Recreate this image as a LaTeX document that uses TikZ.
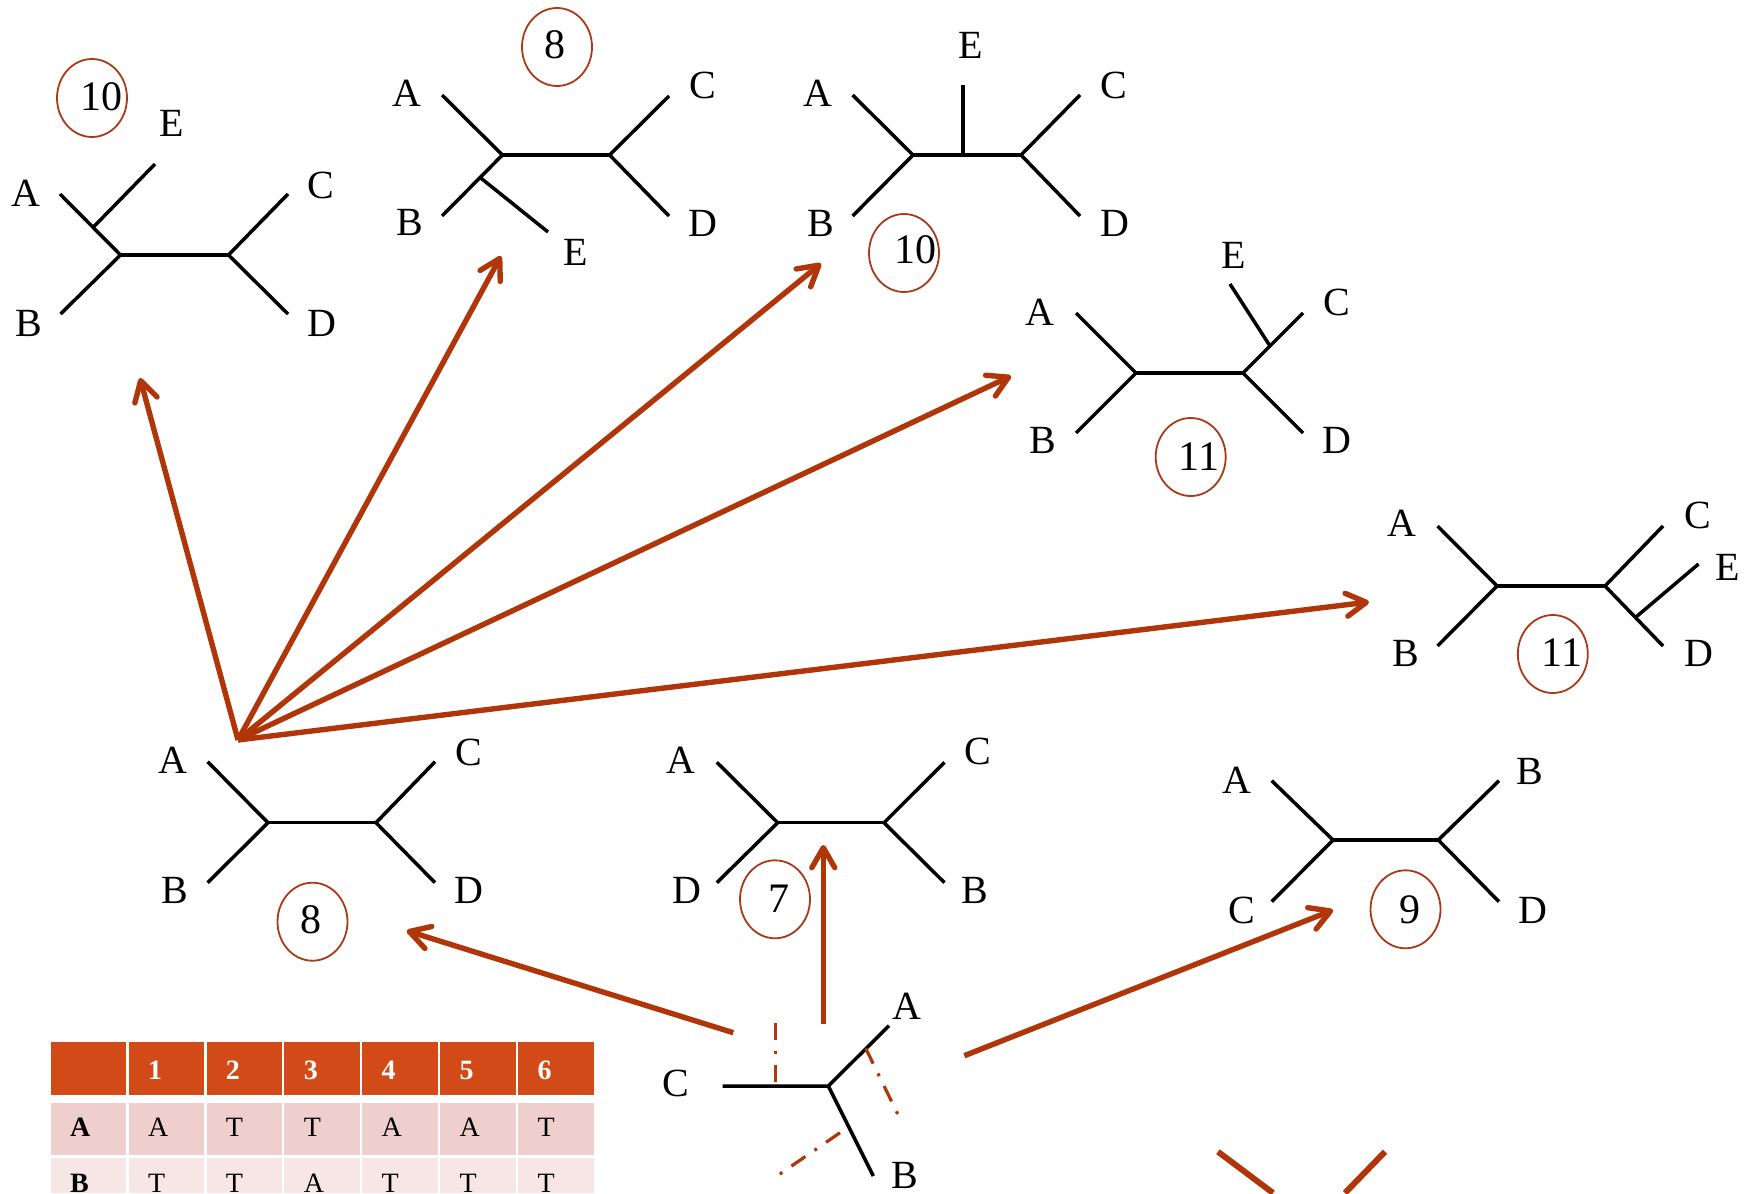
\documentclass[tikz,border=0pt]{standalone}
\usepackage{fontspec}
\setmainfont{Liberation Serif}
\usetikzlibrary{arrows.meta,shapes.geometric}
\definecolor{arrc}{HTML}{B0360A}
\definecolor{circc}{HTML}{A83A18}
\definecolor{hdrc}{HTML}{D14A18}
\definecolor{rowac}{HTML}{EECFCD}
\definecolor{rowbc}{HTML}{F6E6E5}
\tikzset{
  tree/.style={line width=1.75pt, black},
  lab/.style={font=\fontsize{20}{24}\selectfont, inner sep=0pt},
  score/.style={ellipse, draw=circc, line width=0.9pt, minimum width=35pt, minimum height=39pt, inner sep=0pt},
  num/.style={font=\fontsize{21}{25}\selectfont, inner sep=0pt},
  arr/.style={draw=arrc, line width=2.7pt, -{Straight Barb[length=10pt,width=11.5pt,round]}},
  dd/.style={draw=arrc, line width=1.6pt, dash pattern=on 8.5pt off 5.5pt on 1.5pt off 5.5pt},
  tabtxt/.style={font=\fontsize{14}{16}\selectfont, inner sep=0pt, anchor=base west},
  tabbold/.style={tabtxt, font=\fontsize{14}{16}\selectfont\bfseries},
}
\begin{document}
\begin{tikzpicture}[x=0.5pt,y=-0.5pt]
\useasboundingbox (0,0) rectangle (1744,1193);

% ---------- Tree 1 (score 10) ----------
\draw[tree] (60,194) -- (120.5,255) -- (60.5,314);
\draw[tree] (120.5,255) -- (228.5,255);
\draw[tree] (288,194) -- (228.5,255) -- (288,314);
\draw[tree] (93,227.5) -- (155,164);
\node[lab] (t1a) at (26,193) {A};
\node[lab] (t1e) at (172,123) {E};
\node[lab] (t1c) at (321,185) {C};
\node[lab] (t1b) at (29,323) {B};
\node[lab] (t1d) at (322,323) {D};
\node[score] (s1) at (92,98) {};
\node[num] (n1) at (101,97) {10};

% ---------- Tree 2 (score 8) ----------
\draw[tree] (442,95) -- (502.4,155) -- (442,216);
\draw[tree] (502.4,155) -- (609.6,155);
\draw[tree] (669,96) -- (609.6,155) -- (669,216);
\draw[tree] (480,177.4) -- (548,232);
\node[lab] (t2a) at (407,93) {A};
\node[lab] (t2b) at (410,222) {B};
\node[lab] (t2e) at (576,252) {E};
\node[lab] (t2c) at (702.6,85) {C};
\node[lab] (t2d) at (703,223) {D};
\node[score] (s2) at (557,47) {};
\node[num] (n2) at (555,45) {8};

% ---------- Tree 3 (score 10) ----------
\draw[tree] (852.6,95) -- (913,155) -- (852.6,216);
\draw[tree] (913,155) -- (1021,155);
\draw[tree] (1080,95) -- (1021,155) -- (1080,216);
\draw[tree] (962.8,155) -- (962.8,85);
\node[lab] (t3e) at (971,45) {E};
\node[lab] (t3a) at (818,93) {A};
\node[lab] (t3c) at (1113.5,85) {C};
\node[lab] (t3b) at (821,223) {B};
\node[lab] (t3d) at (1114.7,223) {D};
\node[score] (s3) at (904,253) {};
\node[num] (n3) at (915.7,250) {10};

% ---------- Tree 4 (score 11) ----------
\draw[tree] (1076,313) -- (1136,373) -- (1076,433);
\draw[tree] (1136,373) -- (1243,373);
\draw[tree] (1303,313) -- (1243,373) -- (1303,433);
\draw[tree] (1270,346) -- (1230,284);
\node[lab] (t4e) at (1234,255) {E};
\node[lab] (t4a) at (1040,312) {A};
\node[lab] (t4c) at (1337,302) {C};
\node[lab] (t4b) at (1043,440) {B};
\node[lab] (t4d) at (1337,440) {D};
\node[score] (s4) at (1190.7,457) {};
\node[num] (n4) at (1199,456.7) {11};

% ---------- Tree 5 (score 11) ----------
\draw[tree] (1437.5,526) -- (1497,586) -- (1437.5,646);
\draw[tree] (1497,586) -- (1605,586);
\draw[tree] (1663,526) -- (1605,586) -- (1663,646);
\draw[tree] (1636,617) -- (1698.5,564);
\node[lab] (t5a) at (1402,523) {A};
\node[lab] (t5c) at (1697.5,515) {C};
\node[lab] (t5e) at (1728,567) {E};
\node[lab] (t5b) at (1405.7,653) {B};
\node[lab] (t5d) at (1698.5,653) {D};
\node[score] (s5) at (1552.8,654) {};
\node[num] (n5) at (1562,653) {11};

% ---------- Tree 6 (score 8) ----------
\draw[tree] (207.6,761.7) -- (268,822.7) -- (207.6,882.7);
\draw[tree] (268,822.7) -- (376,822.7);
\draw[tree] (435,761.7) -- (376,822.7) -- (435,882.7);
\node[lab] (t6a) at (173,760) {A};
\node[lab] (t6c) at (469,752.7) {C};
\node[lab] (t6b) at (175,890.7) {B};
\node[lab] (t6d) at (469,890.7) {D};
\node[score] (s6) at (312.5,921.7) {};
\node[num] (n6) at (311,920) {8};

% ---------- Tree 7 (score 7) ----------
\draw[tree] (716.8,762.3) -- (777.7,822.7) -- (716.8,882.7);
\draw[tree] (777.7,822.7) -- (884,822.7);
\draw[tree] (944.5,762.3) -- (884,822.7) -- (944.5,882.7);
\node[lab] (t7a) at (681.2,760) {A};
\node[lab] (t7d) at (687,890.7) {D};
\node[lab] (t7c) at (977.8,751.7) {C};
\node[lab] (t7b) at (975,890.7) {B};
\node[score] (s7) at (775,899.3) {};
\node[num] (n7) at (778.8,899) {7};

% ---------- Tree 8 (score 9) ----------
\draw[tree] (1271.7,780.7) -- (1333,840) -- (1271.7,901.7);
\draw[tree] (1333,840) -- (1438.3,840);
\draw[tree] (1499,780.7) -- (1438.3,840) -- (1499,901.7);
\node[lab] (t8a) at (1236.8,780) {A};
\node[lab] (t8c) at (1241.9,910) {C};
\node[lab] (t8b) at (1529.6,771.7) {B};
\node[lab] (t8d) at (1533,910) {D};
\node[score] (s8) at (1405.5,909.3) {};
\node[num] (n8) at (1410,910) {9};

% ---------- Bottom three-taxon tree ----------
\draw[tree] (722.7,1086) -- (828.3,1086) -- (889,1025.7);
\draw[tree] (828.3,1086) -- (873.3,1176);
\node[lab] (t0c) at (676,1083) {C};
\node[lab] (t0a) at (907.3,1006.7) {A};
\node[lab] (t0b) at (905,1175) {B};
\draw[dd] (775.7,1023.3) -- (775.7,1086);
\draw[dd] (865.7,1048.3) -- (899.3,1117.3);
\draw[dd] (840,1132.7) -- (776,1176.7);

% ---------- Arrows ----------
\coordinate (fan) at (238,740);
\coordinate (tip1) at (140,378);
\coordinate (tip2) at (501,256);
\coordinate (tip3) at (821,263.5);
\coordinate (tip4) at (1011,376);
\coordinate (tip5) at (1369,602);
\draw[arr] (fan) -- (tip1);
\draw[arr] (fan) -- (tip2);
\draw[arr] (fan) -- (tip3);
\draw[arr] (fan) -- (tip4);
\draw[arr] (fan) -- (tip5);

\coordinate (b6) at (733.3,1032.7);
\coordinate (tip6) at (406.7,930.7);
\coordinate (b7) at (823.3,1024.3);
\coordinate (tip7) at (823.3,845);
\coordinate (b8) at (964.3,1055.7);
\coordinate (tip8) at (1333,910);
\draw[arr] (b6) -- (tip6);
\draw[arr] (b7) -- (tip7);
\draw[arr] (b8) -- (tip8);

% ---------- Partial cut-off shape at bottom ----------
\draw[draw=arrc, line width=3pt] (1218,1151.7) -- (1273,1193);
\draw[draw=arrc, line width=3pt] (1385,1151.7) -- (1345,1193);

% ---------- Table ----------
\foreach \i in {0,...,6} {
  \fill[hdrc] ({50.7+77.9*\i},1042.3) rectangle ++(75.7,52.7);
  \fill[rowac] ({50.7+77.9*\i},1102.7) rectangle ++(75.7,52.3);
  \fill[rowbc] ({50.7+77.9*\i},1157.7) rectangle ++(75.7,35.3);
}
\foreach \i in {1,...,6} {
  \node[tabbold, text=white] (h\i) at ({50.7+77.9*\i+19},1079.3) {\i};
}
\node[tabbold] (ra) at (69.7,1136.7) {A};
\node[tabbold] (rb) at (69.7,1192.5) {B};
\foreach \i/\t in {1/A,2/T,3/T,4/A,5/A,6/T} {
  \node[tabtxt] (a\i) at ({50.7+77.9*\i+19},1136.7) {\t};
}
\foreach \i/\t in {1/T,2/T,3/A,4/T,5/T,6/T} {
  \node[tabtxt] (b\i) at ({50.7+77.9*\i+19},1192.5) {\t};
}
\end{tikzpicture}
\end{document}
